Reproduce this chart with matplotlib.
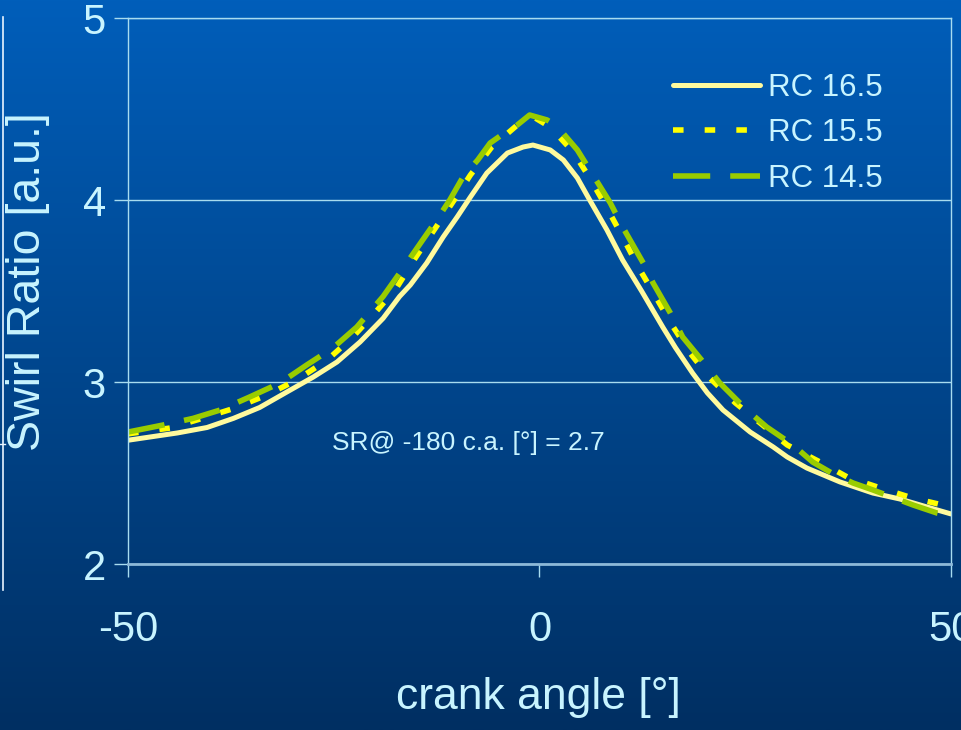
import numpy as np
import matplotlib
matplotlib.use("Agg")
import matplotlib.pyplot as plt
from matplotlib.lines import Line2D

plt.rcParams['font.family'] = ['Liberation Sans', 'DejaVu Sans']
plt.rcParams['axes.unicode_minus'] = False

# ===================== data =====================
x_165 = [-50, -47, -44, -40.4, -37.2, -34, -30.7, -27.5, -24.6, -21.8, -19, -17,
         -15.7, -13.7, -11.7, -10, -8.4, -6.4, -3.9, -2, -0.8, 1.3, 2.9, 4.6, 6.1,
         8.2, 10.1, 12.4, 15, 16.5, 18.6, 20.4, 22.3, 25.6, 28.4, 30.1, 32.5, 36.5,
         40.5, 43.8, 47.1, 50]
y_165 = [2.68, 2.70, 2.72, 2.75, 2.80, 2.86, 2.945, 3.027, 3.11, 3.22, 3.35, 3.47,
         3.533, 3.654, 3.797, 3.907, 4.016, 4.148, 4.258, 4.291, 4.302, 4.275, 4.22,
         4.121, 4.0, 3.835, 3.67, 3.50, 3.30, 3.19, 3.049, 2.94, 2.846, 2.725, 2.643,
         2.588, 2.527, 2.451, 2.39, 2.357, 2.313, 2.275]

x_155 = [-50, -48.5, -44.9, -41.0, -37.0, -33.1, -29.5, -25.8, -22.8, -20.0, -17.3,
         -15.1, -10.6, -8.4, -5.8, -2.7, -0.5, 1.3, 4.1, 6.1, 8.2, 10.1, 12.0, 14.0,
         16.1, 18.3, 20.7, 23.8, 26.8, 30.1, 34.1, 37.4, 41.4, 45.3, 49.0, 50]
y_155 = [2.715, 2.725, 2.747, 2.80, 2.857, 2.929, 3.011, 3.121, 3.242, 3.379, 3.522,
         3.681, 3.984, 4.137, 4.291, 4.412, 4.45, 4.401, 4.264, 4.121, 3.956, 3.797,
         3.632, 3.478, 3.313, 3.159, 3.022, 2.885, 2.775, 2.654, 2.56, 2.478, 2.418,
         2.363, 2.324, 2.31]

x_145 = [-50, -45.7, -42.1, -38.8, -35.2, -31.5, -28.3, -25.1, -22.2, -19, -16.5,
         -14.2, -12.5, -10.9, -9.3, -7.5, -6, -4.2, -2.7, -1.2, 0.9, 2.1, 4.6, 6.5,
         8.6, 10.1, 12.6, 13.8, 15.9, 17.4, 20.4, 21.9, 25.2, 27.6, 30.8, 33.2, 35.5,
         38.1, 40.5, 45.4, 48.3, 50]
y_145 = [2.725, 2.764, 2.80, 2.846, 2.918, 2.995, 3.093, 3.187, 3.302, 3.47, 3.63,
         3.78, 3.89, 4.0, 4.126, 4.22, 4.313, 4.37, 4.412, 4.467, 4.44, 4.407, 4.275,
         4.137, 3.984, 3.852, 3.654, 3.544, 3.379, 3.247, 3.082, 2.995, 2.846, 2.753,
         2.654, 2.56, 2.50, 2.445, 2.407, 2.324, 2.28, 2.265]

labels = ["RC 16.5", "RC 15.5", "RC 14.5"]
xticks = [-50, 0, 50]
yticks = [2, 3, 4, 5]
note = "SR@ -180 c.a. [°] = 2.7"

txt = '#C8F4FF'
grid_c = '#A8DCF0'

# ===================== figure =====================
fig = plt.figure(figsize=(9.62, 7.30), dpi=100)

# background gradient
bg = fig.add_axes([0, 0, 1, 1], zorder=-10)
grad = np.linspace(0, 1, 256).reshape(-1, 1)
top = np.array([0x00, 0x5E, 0xBA]) / 255
bot = np.array([0x00, 0x2F, 0x62]) / 255
img = top + (bot - top) * grad[:, :, None]
bg.imshow(img, aspect='auto', extent=[0, 1, 0, 1])
bg.axis('off')

ax = fig.add_axes([128/962, 1 - 564/730, (951-128)/962, (564-18)/730])
ax.patch.set_alpha(0)

ax.plot(x_165, y_165, color='#FFFA9E', lw=3.6, solid_capstyle='round', label=labels[0])
ax.plot(x_155, y_155, color='#FFFF00', lw=4, linestyle=(0, (1.9, 3.8)),
        dash_capstyle='butt', label=labels[1])
ax.plot(x_145, y_145, color='#99CC00', lw=4, linestyle=(0, (6.7, 3.6)),
        dash_capstyle='butt', label=labels[2])

ax.set_xlim(-50, 50)
ax.set_ylim(2, 5)
ax.set_xticks(xticks)
ax.set_yticks(yticks)
ax.yaxis.grid(True, color=grid_c, lw=1)
ax.set_axisbelow(True)

for s in ['left', 'right', 'top']:
    ax.spines[s].set_color(grid_c)
    ax.spines[s].set_linewidth(1)
ax.spines['bottom'].set_color('#8CB8D8')
ax.spines['bottom'].set_linewidth(2)

ax.tick_params(axis='y', direction='out', length=10, width=1, color=grid_c,
               labelcolor=txt, labelsize=30, pad=6)
ax.tick_params(axis='x', direction='out', length=9, width=1, color=grid_c,
               labelcolor=txt, labelsize=30, pad=24)

ax.text(-25.2, 2.665, note, color=txt, fontsize=19, ha='left', va='center')

leg = ax.legend(loc='upper left', bbox_to_anchor=(0.662, 0.9), frameon=False,
                fontsize=22.5, handlelength=2.8, handletextpad=0.26,
                labelspacing=0.5, borderpad=0, borderaxespad=0)
for t in leg.get_texts():
    t.set_color(txt)

fig.text(28/962, 1 - 282/730, "Swirl Ratio [a.u.]", rotation=90, color=txt,
         fontsize=33.5, ha='center', va='center')
fig.text(538/962, 1 - 697/730, "crank angle [°]", color=txt,
         fontsize=32, ha='center', va='center')

# slide edge line on the far left
fig.add_artist(Line2D([3/962, 3/962], [1 - 17/730, 1 - 590/730], color='#E8F4FF', lw=1.2))
fig.add_artist(Line2D([0, 5/962], [1 - 444/730, 1 - 444/730], color='#E8F4FF', lw=1))

fig.savefig("out.png", dpi=100)
